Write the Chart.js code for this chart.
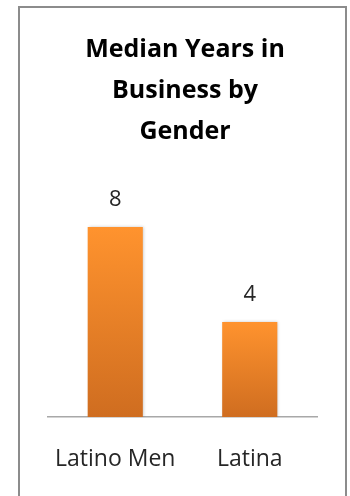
<!DOCTYPE html>
<html>
<head>
<meta charset="utf-8">
<script src="https://cdn.jsdelivr.net/npm/chart.js@4/dist/chart.umd.min.js"></script>
<style>
  html, body { margin: 0; padding: 0; background: #fff; }
  #wrap { position: relative; width: 350px; height: 496px; overflow: hidden; }
  #frame {
    position: absolute; left: 18px; top: 6px; width: 329px; height: 520px;
    border: 2px solid #8c8c8c; box-sizing: border-box;
  }
  canvas { position: absolute; left: 0; top: 0; }
</style>
</head>
<body>
<div id="wrap">
  <div id="frame"></div>
  <canvas id="chart" width="350" height="496"></canvas>
</div>
<script>
// Median years in business, by gender
const categories = ['Latino Men', 'Latina'];
const medianYears = [8, 4];
const titleLines = ['Median Years in', 'Business by', 'Gender'];

const FONT = '"Open Sans", Lato, "Liberation Sans", sans-serif';

// Vertical orange gradient spanning each bar from its top to the baseline
function barGradient(context) {
  const chart = context.chart;
  const { ctx, chartArea, scales } = chart;
  if (!chartArea || context.type !== 'data') return '#f28a2e';
  const top = scales.y.getPixelForValue(context.parsed.y);
  const bottom = scales.y.getPixelForValue(0);
  const g = ctx.createLinearGradient(0, top, 0, bottom);
  g.addColorStop(0, '#ff932e');
  g.addColorStop(1, '#cf6d20');
  return g;
}

// Soft shadow behind the bars
const barShadow = {
  id: 'barShadow',
  beforeDatasetsDraw(chart) {
    const ctx = chart.ctx;
    ctx.save();
    ctx.shadowColor = 'rgba(0,0,0,0.22)';
    ctx.shadowBlur = 3;
    ctx.shadowOffsetX = 1;
    ctx.shadowOffsetY = 0;
  },
  afterDatasetsDraw(chart) {
    chart.ctx.restore();
  }
};

// Value written above each bar
const valueLabels = {
  id: 'valueLabels',
  afterDatasetsDraw(chart) {
    const ctx = chart.ctx;
    const meta = chart.getDatasetMeta(0);
    ctx.save();
    ctx.font = '22px ' + FONT;
    ctx.fillStyle = '#262626';
    ctx.textAlign = 'center';
    ctx.textBaseline = 'middle';
    meta.data.forEach((bar, i) => {
      ctx.fillText(String(chart.data.datasets[0].data[i]), bar.x, bar.y - 27);
    });
    ctx.restore();
  }
};

new Chart(document.getElementById('chart'), {
  type: 'bar',
  data: {
    labels: categories,
    datasets: [{
      data: medianYears,
      backgroundColor: barGradient,
      borderWidth: 0,
      categoryPercentage: 1,
      barPercentage: 0.41
    }]
  },
  options: {
    responsive: false,
    animation: false,
    events: [],
    layout: { padding: { left: 48, right: 28, top: 0, bottom: 0 } },
    plugins: {
      legend: { display: false },
      tooltip: { enabled: false },
      title: {
        display: true,
        text: titleLines,
        color: '#000',
        font: { family: FONT, size: 25, weight: 'bold', lineHeight: 1.64 },
        padding: { top: 29.5, bottom: 27 }
      }
    },
    scales: {
      x: {
        grid: { display: false, drawTicks: false },
        border: { display: true, color: '#a8a8a8', width: 1.5 },
        ticks: {
          color: '#262626',
          font: { family: FONT, size: 23 },
          padding: 29,
          maxRotation: 0
        },
        afterFit(scale) { scale.height = 79; }
      },
      y: {
        position: 'right',
        min: 0,
        max: 10,
        display: true,
        grid: { display: false },
        border: { display: false },
        ticks: { display: false },
        afterFit(scale) { scale.width = 5; }
      }
    }
  },
  plugins: [barShadow, valueLabels]
});
</script>
</body>
</html>
